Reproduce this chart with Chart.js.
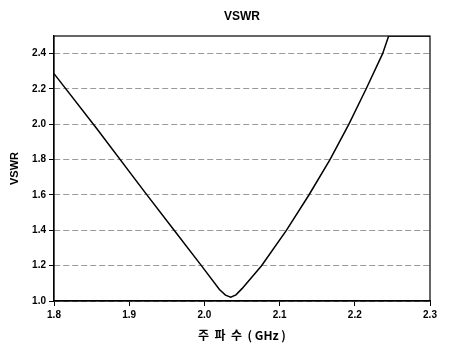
<!DOCTYPE html>
<html>
<head>
<meta charset="utf-8">
<script src="https://cdn.jsdelivr.net/npm/chart.js@4"></script>
<style>
  html, body { margin: 0; padding: 0; background: #fff; }
  #wrap { width: 449px; height: 346px; }
</style>
</head>
<body>
<div id="wrap"><canvas id="vswrChart" width="449" height="346"></canvas></div>
<script>
const freqs = [1.800, 1.857, 1.921, 1.959, 1.996, 2.020, 2.028, 2.035, 2.042, 2.050, 2.076, 2.109, 2.139, 2.167, 2.192, 2.215, 2.237, 2.245, 2.270, 2.300];
const vswr = [2.287, 1.975, 1.615, 1.405, 1.200, 1.065, 1.033, 1.022, 1.035, 1.070, 1.200, 1.400, 1.600, 1.800, 2.000, 2.200, 2.400, 2.500, 2.500, 2.500];
const yTicks = [1.0, 1.2, 1.4, 1.6, 1.8, 2.0, 2.2, 2.4];
const xTicks = [1.8, 1.9, 2.0, 2.1, 2.2, 2.3];

const points = freqs.map((f, i) => ({ x: f, y: vswr[i] }));

// Title centred on the plot area plus the box around it
const framePlugin = {
  id: "frame",
  afterDraw(chart) {
    const { ctx, chartArea } = chart;
    ctx.save();
    ctx.setLineDash([]);
    ctx.strokeStyle = "#000";
    ctx.lineWidth = 1.2;
    ctx.strokeRect(chartArea.left, chartArea.top, chartArea.right - chartArea.left, chartArea.bottom - chartArea.top);
    ctx.fillStyle = "#000";
    ctx.font = "bold 12px 'Liberation Sans', Arial, sans-serif";
    ctx.textAlign = "center";
    ctx.textBaseline = "middle";
    ctx.fillText("VSWR", (chartArea.left + chartArea.right) / 2, 17);
    ctx.restore();
  },
};

new Chart(document.getElementById("vswrChart"), {
  type: "line",
  data: {
    datasets: [
      {
        data: points,
        borderColor: "#000",
        borderWidth: 1.5,
        pointRadius: 0,
        tension: 0,
        fill: false,
      },
    ],
  },
  options: {
    responsive: false,
    animation: false,
    layout: { padding: { left: 0, right: 19, top: 36, bottom: 0 } },
    plugins: {
      legend: { display: false },
      tooltip: { enabled: false },
    },
    scales: {
      x: {
        type: "linear",
        min: 1.8,
        max: 2.3,
        afterBuildTicks: (scale) => {
          scale.ticks = xTicks.map((v) => ({ value: v }));
        },
        afterFit: (scale) => {
          scale.height = 45;
        },
        ticks: {
          color: "#000",
          font: { family: "'Liberation Sans', Arial, sans-serif", size: 10, weight: "bold" },
          padding: 3,
          maxRotation: 0,
          callback: (v) => Number(v).toFixed(1),
        },
        grid: {
          drawOnChartArea: false,
          drawTicks: true,
          tickLength: 5,
          tickColor: "#000",
        },
        border: { display: true, color: "#000", width: 1.2 },
        title: {
          display: true,
          text: "주  파  수  ( GHz )",
          color: "#000",
          font: { family: "'Noto Sans CJK KR', 'Liberation Sans', sans-serif", size: 12, weight: "bold" },
          padding: { top: 2, bottom: 3 },
        },
      },
      y: {
        type: "linear",
        min: 1.0,
        max: 2.5,
        afterBuildTicks: (scale) => {
          scale.ticks = yTicks.map((v) => ({ value: v }));
        },
        afterFit: (scale) => {
          scale.width = 54;
        },
        ticks: {
          color: "#000",
          font: { family: "'Liberation Sans', Arial, sans-serif", size: 10, weight: "bold" },
          padding: 3,
          callback: (v) => Number(v).toFixed(1),
        },
        grid: {
          color: "#9a9a9a",
          lineWidth: 1,
          drawTicks: true,
          tickLength: 5,
          tickColor: "#000",
          tickBorderDash: [],
        },
        border: { display: true, color: "#000", width: 1.2, dash: [6, 3] },
        title: {
          display: true,
          text: "VSWR",
          color: "#000",
          font: { family: "'Liberation Sans', Arial, sans-serif", size: 11, weight: "bold" },
          padding: { top: 8, bottom: 0 },
        },
      },
    },
  },
  plugins: [framePlugin],
});
</script>
</body>
</html>
